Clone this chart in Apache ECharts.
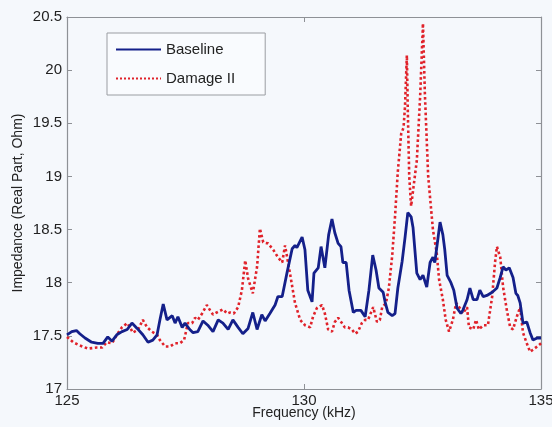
<!DOCTYPE html>
<html>
<head>
<meta charset="utf-8">
<script src="https://cdn.jsdelivr.net/npm/echarts@6/dist/echarts.min.js"></script>
<style>
  html, body { margin: 0; padding: 0; background: #f5f8fc; }
  #chart { width: 552px; height: 427px; }
</style>
</head>
<body>
<div id="chart"></div>
<script>
// Baseline 曲线（频率 kHz / 阻抗实部 Ohm）
const baselineFreq = [125.00,125.10,125.20,125.27,125.38,125.52,125.65,125.76,125.86,125.95,126.05,126.16,126.27,126.37,126.48,126.60,126.71,126.81,126.90,126.96,127.03,127.11,127.22,127.28,127.34,127.43,127.49,127.59,127.66,127.76,127.87,127.97,128.08,128.19,128.29,128.40,128.50,128.61,128.71,128.82,128.92,129.01,129.11,129.18,129.28,129.39,129.45,129.54,129.64,129.75,129.81,129.85,129.96,130.02,130.08,130.17,130.21,130.30,130.36,130.44,130.52,130.59,130.65,130.72,130.78,130.82,130.89,130.95,131.04,131.10,131.20,131.29,131.37,131.45,131.52,131.58,131.67,131.71,131.77,131.86,131.92,131.98,132.07,132.13,132.19,132.26,132.30,132.38,132.45,132.51,132.59,132.66,132.72,132.76,132.83,132.87,132.93,132.97,133.02,133.10,133.16,133.23,133.31,133.35,133.44,133.50,133.57,133.65,133.71,133.78,133.86,133.97,134.07,134.14,134.20,134.26,134.33,134.41,134.47,134.51,134.56,134.62,134.70,134.77,134.83,134.92,135.00];
const baselineVal = [17.51,17.54,17.55,17.52,17.48,17.44,17.43,17.43,17.49,17.45,17.51,17.54,17.56,17.62,17.57,17.51,17.44,17.46,17.51,17.65,17.80,17.65,17.69,17.62,17.68,17.58,17.62,17.56,17.53,17.54,17.64,17.60,17.54,17.65,17.62,17.56,17.65,17.58,17.52,17.57,17.72,17.56,17.70,17.64,17.71,17.79,17.87,17.87,18.09,18.32,18.35,18.33,18.43,18.31,17.93,17.82,18.09,18.14,18.34,18.14,18.45,18.60,18.47,18.37,18.34,18.19,18.19,17.93,17.72,17.74,17.74,17.68,17.93,18.26,18.12,17.95,17.91,17.82,17.72,17.69,17.71,17.95,18.20,18.42,18.66,18.62,18.52,18.09,18.03,18.07,17.96,18.19,18.24,18.19,18.43,18.57,18.45,18.31,18.07,18.00,17.93,17.76,17.71,17.74,17.84,17.95,17.84,17.84,17.93,17.87,17.88,17.91,17.95,18.05,18.15,18.12,18.14,18.05,17.90,17.88,17.81,17.62,17.63,17.53,17.46,17.48,17.48];

// Damage II 曲线
const damageFreq = [125.00,125.13,125.27,125.44,125.63,125.74,125.84,125.95,126.05,126.16,126.27,126.33,126.39,126.50,126.60,126.69,126.79,126.90,126.96,127.07,127.17,127.28,127.38,127.47,127.55,127.64,127.70,127.76,127.85,127.95,128.02,128.08,128.16,128.29,128.38,128.44,128.52,128.61,128.69,128.76,128.82,128.92,129.01,129.07,129.14,129.24,129.35,129.45,129.54,129.60,129.70,129.81,129.92,130.02,130.13,130.19,130.27,130.38,130.44,130.51,130.59,130.65,130.72,130.80,130.86,130.93,131.01,131.08,131.14,131.22,131.29,131.35,131.46,131.54,131.60,131.65,131.73,131.79,131.86,131.92,131.98,132.05,132.10,132.13,132.17,132.19,132.22,132.26,132.30,132.38,132.45,132.51,132.55,132.62,132.72,132.80,132.85,132.93,132.99,133.06,133.14,133.21,133.29,133.35,133.44,133.48,133.57,133.63,133.69,133.78,133.88,133.97,134.03,134.07,134.14,134.20,134.28,134.35,134.41,134.49,134.56,134.62,134.70,134.77,134.83,134.92,135.00];
const damageVal = [17.49,17.44,17.41,17.38,17.39,17.39,17.44,17.43,17.51,17.58,17.62,17.58,17.53,17.56,17.65,17.58,17.54,17.51,17.46,17.40,17.40,17.43,17.43,17.46,17.62,17.62,17.67,17.65,17.71,17.79,17.74,17.70,17.72,17.75,17.71,17.72,17.71,17.77,17.93,18.21,18.04,17.90,18.15,18.51,18.38,18.37,18.31,18.24,18.19,18.35,18.10,17.81,17.65,17.60,17.58,17.68,17.76,17.79,17.71,17.56,17.54,17.63,17.67,17.62,17.58,17.58,17.56,17.52,17.54,17.62,17.65,17.65,17.77,17.63,17.65,17.77,17.81,17.95,18.25,18.62,19.05,19.40,19.46,19.65,20.14,19.62,19.00,18.72,18.73,19.15,19.75,20.44,19.78,19.00,18.50,18.28,18.03,17.84,17.65,17.54,17.65,17.81,17.76,17.71,17.77,17.58,17.56,17.65,17.56,17.60,17.60,17.87,18.19,18.34,18.24,17.96,17.74,17.58,17.56,17.68,17.77,17.53,17.43,17.35,17.37,17.40,17.43];

// 坐标轴刻度
const xTicks = { min: 125, max: 135, interval: 5 };
const yTicks = { min: 17, max: 20.5, interval: 0.5 };

const zip = (xs, ys) => xs.map((x, i) => [x, ys[i]]);

const chart = echarts.init(document.getElementById('chart'));

const axisColor = '#8e9196';
const fontFamily = 'Liberation Sans, Arial, sans-serif';

const option = {
  animation: false,
  backgroundColor: '#f5f8fc',
  grid: { left: 67, right: 11, top: 17, bottom: 38, outerBoundsMode: 'none' },
  legend: {
    orient: 'vertical',
    left: 107,
    top: 33,
    padding: [9, 30, 9, 8],
    itemWidth: 45,
    itemHeight: 14,
    itemGap: 14,
    backgroundColor: '#f9fbfe',
    borderColor: '#9a9da2',
    borderWidth: 1,
    borderRadius: 0,
    itemStyle: { opacity: 0 }, // 图例只显示线段，不显示圆点
    textStyle: { fontSize: 15, color: '#222', fontFamily: fontFamily },
    data: ['Baseline', 'Damage II'],
  },
  xAxis: [
    {
      type: 'value',
      min: xTicks.min, max: xTicks.max, interval: xTicks.interval,
      name: 'Frequency (kHz)',
      nameLocation: 'middle',
      nameGap: 17,
      nameMoveOverlap: false,
      nameTextStyle: { fontSize: 14, color: '#222', fontFamily: fontFamily },
      axisLine: { lineStyle: { color: axisColor, width: 1.2 } },
      axisTick: { inside: true, length: 5, lineStyle: { color: axisColor } },
      axisLabel: { fontSize: 15, color: '#222', margin: 4, fontFamily: fontFamily },
      splitLine: { show: false },
    },
    {
      type: 'value',
      position: 'top',
      min: xTicks.min, max: xTicks.max, interval: xTicks.interval,
      axisLine: { lineStyle: { color: axisColor, width: 1.2 } },
      axisTick: { inside: true, length: 5, lineStyle: { color: axisColor } },
      axisLabel: { show: false },
      splitLine: { show: false },
    },
  ],
  yAxis: [
    {
      type: 'value',
      min: yTicks.min, max: yTicks.max, interval: yTicks.interval,
      name: 'Impedance (Real Part, Ohm)',
      nameLocation: 'middle',
      nameGap: 42,
      nameMoveOverlap: false,
      nameTextStyle: { fontSize: 14, color: '#222', fontFamily: fontFamily },
      axisLine: { show: true, lineStyle: { color: axisColor, width: 1.2 } },
      axisTick: { show: true, inside: true, length: 5, lineStyle: { color: axisColor } },
      axisLabel: { fontSize: 15, color: '#222', margin: 5, fontFamily: fontFamily },
      splitLine: { show: false },
    },
    {
      type: 'value',
      position: 'right',
      min: yTicks.min, max: yTicks.max, interval: yTicks.interval,
      axisLine: { show: true, lineStyle: { color: axisColor, width: 1.2 } },
      axisTick: { show: true, inside: true, length: 5, lineStyle: { color: axisColor } },
      axisLabel: { show: false },
      splitLine: { show: false },
    },
  ],
  series: [
    {
      name: 'Baseline',
      type: 'line',
      data: zip(baselineFreq, baselineVal),
      symbol: 'none',
      lineStyle: { color: '#14208a', width: 2.8 },
      itemStyle: { color: '#14208a' },
      z: 3,
    },
    {
      name: 'Damage II',
      type: 'line',
      data: zip(damageFreq, damageVal),
      symbol: 'none',
      lineStyle: { color: '#e0222a', width: 2.6, type: 'dotted' },
      itemStyle: { color: '#e0222a' },
      z: 2,
    },
  ],
};

chart.setOption(option);
</script>
</body>
</html>
